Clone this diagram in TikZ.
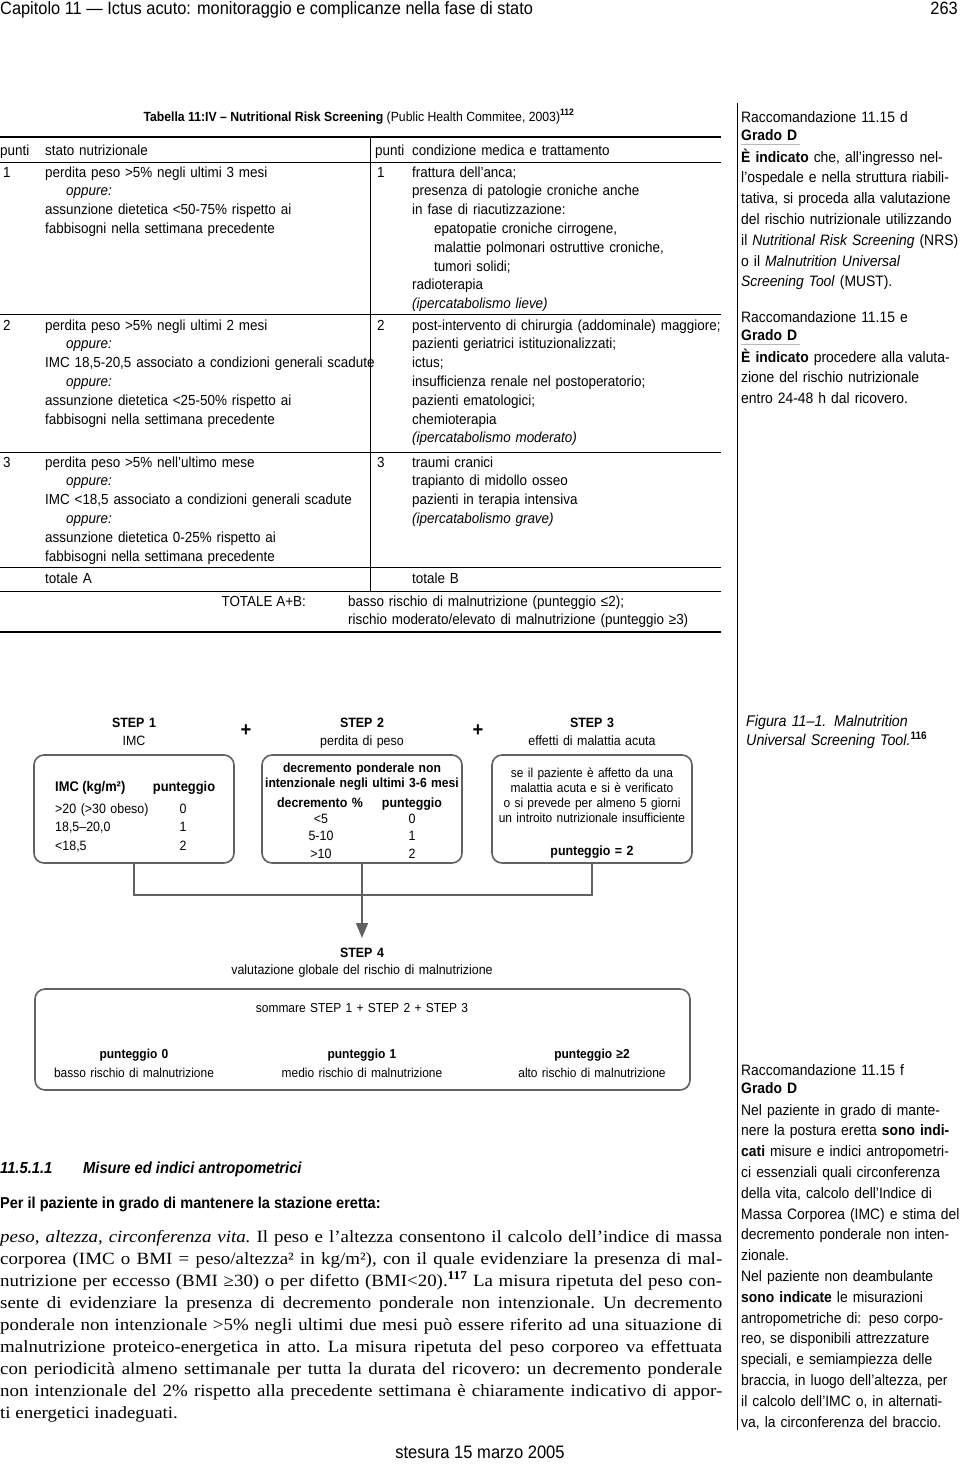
\documentclass[tikz,border=0pt]{standalone}
\usepackage{fontspec}
\setmainfont{Liberation Sans}[FakeStretch=0.92]
\newfontfamily\bookserif{Liberation Serif}[FakeStretch=1.1]
\usetikzlibrary{arrows.meta,positioning}
\definecolor{linegray}{gray}{0.38}
\definecolor{rulegray}{gray}{0.72}
\tikzset{
    txt/.style={inner sep=0pt, anchor=base west, align=left},
    tab/.style={txt, text width=360pt, font=\fontsize{14.6}{18.8}\selectfont},
    side/.style={txt, text width=260pt, font=\fontsize{15.1}{20.8}\selectfont},
    flow/.style={inner sep=0pt, anchor=base, align=center, text width=300pt, font=\fontsize{13}{15.3}\selectfont},
    steptitle/.style={flow, font=\fontsize{13.5}{18}\selectfont},
    stepbox/.style={draw=linegray, line width=1.6pt, rounded corners=10pt, minimum width=200pt, minimum height=108pt},
    link/.style={draw=linegray, line width=1.6pt},
    tabrule/.style={line width=0.9pt},
    heavyrule/.style={line width=2.6pt}
}
\begin{document}
\begin{tikzpicture}[x=1pt,y=-1pt]
\useasboundingbox (0,0) rectangle (960,1465);

\node[txt, font=\fontsize{17.8}{19}\selectfont] (chapter) at (0,14) {Capitolo 11 — Ictus acuto: monitoraggio e complicanze nella fase di stato};
\node[txt, anchor=base east, font=\fontsize{17.8}{19}\selectfont] (pagenum) at (958,14) {263};

\node[txt, anchor=base, font=\fontsize{13.3}{18}\selectfont] (tabtitle) at (359,121) {\textbf{Tabella 11:IV – Nutritional Risk Screening} (Public Health Commitee, 2003)\textsuperscript{\textbf{112}}};

\draw[heavyrule] (0,137) -- (721,137);
\draw[tabrule] (0,162) -- (721,162);
\draw[tabrule] (0,314) -- (721,314);
\draw[tabrule] (0,452) -- (721,452);
\draw[tabrule] (0,567) -- (721,567);
\draw[tabrule] (0,591) -- (721,591);
\draw[heavyrule] (0,632) -- (721,632);
\draw[tabrule] (370,137) -- (370,591);

\node[tab] (hpuntiL) at (0,155) {punti};
\node[tab] (hstato) at (45,155) {stato nutrizionale};
\node[tab] (hpuntiR) at (375,155) {punti};
\node[tab] (hcond) at (412,155) {condizione medica e trattamento};

\node[tab] (n1L) at (3,177) {1};
\node[tab] (stato1) at (45,177) {perdita peso >5\% negli ultimi 3 mesi\\
    \hspace*{21pt}\textit{oppure:}\\
    assunzione dietetica <50-75\% rispetto ai\\
    fabbisogni nella settimana precedente};
\node[tab] (n1R) at (377,177) {1};
\node[tab] (cond1) at (412,177) {frattura dell’anca;\\
    presenza di patologie croniche anche\\
    in fase di riacutizzazione:\\
    \hspace*{22pt}epatopatie croniche cirrogene,\\
    \hspace*{22pt}malattie polmonari ostruttive croniche,\\
    \hspace*{22pt}tumori solidi;\\
    radioterapia\\
    \textit{(ipercatabolismo lieve)}};

\node[tab] (n2L) at (3,330) {2};
\node[tab] (stato2) at (45,330) {perdita peso >5\% negli ultimi 2 mesi\\
    \hspace*{21pt}\textit{oppure:}\\
    IMC 18,5-20,5 associato a condizioni generali scadute\\
    \hspace*{21pt}\textit{oppure:}\\
    assunzione dietetica <25-50\% rispetto ai\\
    fabbisogni nella settimana precedente};
\node[tab] (n2R) at (377,330) {2};
\node[tab] (cond2) at (412,330) {post-intervento di chirurgia (addominale) maggiore;\\
    pazienti geriatrici istituzionalizzati;\\
    ictus;\\
    insufficienza renale nel postoperatorio;\\
    pazienti ematologici;\\
    chemioterapia\\
    \textit{(ipercatabolismo moderato)}};

\node[tab] (n3L) at (3,467) {3};
\node[tab] (stato3) at (45,467) {perdita peso >5\% nell’ultimo mese\\
    \hspace*{21pt}\textit{oppure:}\\
    IMC <18,5 associato a condizioni generali scadute\\
    \hspace*{21pt}\textit{oppure:}\\
    assunzione dietetica 0-25\% rispetto ai\\
    fabbisogni nella settimana precedente};
\node[tab] (n3R) at (377,467) {3};
\node[tab] (cond3) at (412,467) {traumi cranici\\
    trapianto di midollo osseo\\
    pazienti in terapia intensiva\\
    \textit{(ipercatabolismo grave)}};

\node[tab] (totA) at (45,583) {totale A};
\node[tab] (totB) at (412,583) {totale B};
\node[txt, anchor=base east, font=\fontsize{14.6}{18.8}\selectfont] (totAB) at (306,606) {TOTALE A+B:};
\node[tab] (totrisk) at (348,606) {basso rischio di malnutrizione (punteggio ≤2);\\
    rischio moderato/elevato di malnutrizione (punteggio ≥3)};

\draw[tabrule] (737,103) -- (737,1430);
\node[side] (recD) at (741,122) {Raccomandazione 11.15 d};
\node[side] (gradeD) at (741,140) {\textbf{Grado D}};
\draw[rulegray, line width=1.2pt] (741,144.5) -- (800,144.5);
\node[side] (recDtext) at (741,162) {\textbf{È indicato} che, all’ingresso nel-\\
    l’ospedale e nella struttura riabili-\\
    tativa, si proceda alla valutazione\\
    del rischio nutrizionale utilizzando\\
    il \textit{Nutritional Risk Screening} (NRS)\\
    o il \textit{Malnutrition Universal}\\
    \textit{Screening Tool} (MUST).};
\node[side] (recE) at (741,322) {Raccomandazione 11.15 e};
\node[side] (gradeE) at (741,340) {\textbf{Grado D}};
\draw[rulegray, line width=1.2pt] (741,344.5) -- (800,344.5);
\node[side] (recEtext) at (741,362) {\textbf{È indicato} procedere alla valuta-\\
    zione del rischio nutrizionale\\
    entro 24-48 h dal ricovero.};

\node[steptitle] (step1) at (134,727) {\textbf{STEP 1}\\IMC};
\node[steptitle] (step2) at (362,727) {\textbf{STEP 2}\\perdita di peso};
\node[steptitle] (step3) at (592,727) {\textbf{STEP 3}\\effetti di malattia acuta};
\node[inner sep=0pt, font=\fontsize{20}{20}\selectfont\bfseries] (plus1) at (246,731) {+};
\node[inner sep=0pt, font=\fontsize{20}{20}\selectfont\bfseries] (plus2) at (478,731) {+};

\node[stepbox] (box1) at (134,809) {};
\node[stepbox] (box2) at (362,809) {};
\node[stepbox] (box3) at (592,809) {};

\node[txt, font=\fontsize{14}{15}\selectfont] (bmihead) at (55,791) {\textbf{IMC (kg/m²)}};
\node[flow, text width=80pt, font=\fontsize{14}{15}\selectfont] (bmiscore) at (184,791) {\textbf{punteggio}};
\node[flow, anchor=base west, align=left, text width=120pt, font=\fontsize{13.5}{18.7}\selectfont] (bmirange) at (55,813) {>20 (>30 obeso)\\18,5–20,0\\<18,5};
\node[flow, text width=40pt, font=\fontsize{13.5}{18.7}\selectfont] (bmipts) at (183,813) {0\\1\\2};

\node[flow, font=\fontsize{13.2}{15.3}\selectfont] (losshead) at (362,772) {\textbf{decremento ponderale non}\\\textbf{intenzionale negli ultimi 3-6 mesi}};
\node[flow, text width=100pt, font=\fontsize{13.5}{15}\selectfont] (losspct) at (320,807) {\textbf{decremento \%}};
\node[flow, text width=80pt, font=\fontsize{13.5}{15}\selectfont] (lossscore) at (412,807) {\textbf{punteggio}};
\node[flow, text width=60pt, font=\fontsize{13.5}{17.5}\selectfont] (lossrange) at (321,823) {<5\\5-10\\>10};
\node[flow, text width=40pt, font=\fontsize{13.5}{17.5}\selectfont] (losspts) at (412,823) {0\\1\\2};

\node[flow] (acutetext) at (592,777) {se il paziente è affetto da una\\
    malattia acuta e si è verificato\\
    o si prevede per almeno 5 giorni\\
    un introito nutrizionale insufficiente};
\node[flow, font=\fontsize{13.5}{15}\selectfont] (acutescore) at (592,855) {\textbf{punteggio = 2}};

\draw[link] (box1.south) -- ++(0,31) -| (box3.south);
\coordinate (arrowtip) at (362,938);
\draw[link, -{Triangle[length=15pt,width=12pt]}] (box2.south) -- (arrowtip);

\node[steptitle, font=\fontsize{13.5}{17}\selectfont] (step4) at (362,957) {\textbf{STEP 4}\\valutazione globale del rischio di malnutrizione};
\node[stepbox, minimum width=655pt, minimum height=101pt] (box4) at (362.5,1039.5) {};
\node[flow] (sumtext) at (362,1012) {sommare STEP 1 + STEP 2 + STEP 3};
\node[flow, text width=220pt, font=\fontsize{13}{19}\selectfont] (risk0) at (134,1058) {\textbf{punteggio 0}\\basso rischio di malnutrizione};
\node[flow, text width=220pt, font=\fontsize{13}{19}\selectfont] (risk1) at (362,1058) {\textbf{punteggio 1}\\medio rischio di malnutrizione};
\node[flow, text width=220pt, font=\fontsize{13}{19}\selectfont] (risk2) at (592,1058) {\textbf{punteggio ≥2}\\alto rischio di malnutrizione};

\node[side, font=\fontsize{15.5}{19}\selectfont\itshape] (caption) at (746,726) {Figura 11–1. Malnutrition\\
    Universal Screening Tool.\textsuperscript{\upshape\bfseries 116}};

\node[txt, font=\fontsize{16}{19}\selectfont\bfseries\itshape] (secnum) at (0,1173) {11.5.1.1};
\node[txt, font=\fontsize{16}{19}\selectfont\bfseries\itshape] (sectitle) at (83,1173) {Misure ed indici antropometrici};
\node[txt, font=\fontsize{15.8}{19}\selectfont\bfseries] (standing) at (0,1208) {Per il paziente in grado di mantenere la stazione eretta:};

\node[txt, text width=722pt, align=justify, font=\bookserif\fontsize{17.2}{22.1}\selectfont] (bodytext) at (0,1242) {\tolerance=9999\relax\frenchspacing
    \textit{peso, altezza, circonferenza vita.} Il peso e l’altezza consentono il calcolo dell’indice di massa\linebreak
    corporea (IMC o BMI = peso/altezza² in kg/m²), con il quale evidenziare la presenza di mal-\linebreak
    nutrizione per eccesso (BMI ≥30) o per difetto (BMI<20).\textsuperscript{\textbf{117}} La misura ripetuta del peso con-\linebreak
    sente di evidenziare la presenza di decremento ponderale non intenzionale. Un decremento\linebreak
    ponderale non intenzionale >5\% negli ultimi due mesi può essere riferito ad una situazione di\linebreak
    malnutrizione proteico-energetica in atto. La misura ripetuta del peso corporeo va effettuata\linebreak
    con periodicità almeno settimanale per tutta la durata del ricovero: un decremento ponderale\linebreak
    non intenzionale del 2\% rispetto alla precedente settimana è chiaramente indicativo di appor-\linebreak
    ti energetici inadeguati.};

\node[side] (recF) at (741,1075) {Raccomandazione 11.15 f};
\node[side] (gradeF) at (741,1093) {\textbf{Grado D}};
\node[side] (recFtext) at (741,1115) {Nel paziente in grado di mante-\\
    nere la postura eretta \textbf{sono indi-}\\
    \textbf{cati} misure e indici antropometri-\\
    ci essenziali quali circonferenza\\
    della vita, calcolo dell’Indice di\\
    Massa Corporea (IMC) e stima del\\
    decremento ponderale non inten-\\
    zionale.\\
    Nel paziente non deambulante\\
    \textbf{sono indicate} le misurazioni\\
    antropometriche di: peso corpo-\\
    reo, se disponibili attrezzature\\
    speciali, e semiampiezza delle\\
    braccia, in luogo dell’altezza, per\\
    il calcolo dell’IMC o, in alternati-\\
    va, la circonferenza del braccio.};

\node[txt, anchor=base, font=\fontsize{18}{19}\selectfont] (draftdate) at (480,1458) {stesura 15 marzo 2005};
\end{tikzpicture}
\end{document}
